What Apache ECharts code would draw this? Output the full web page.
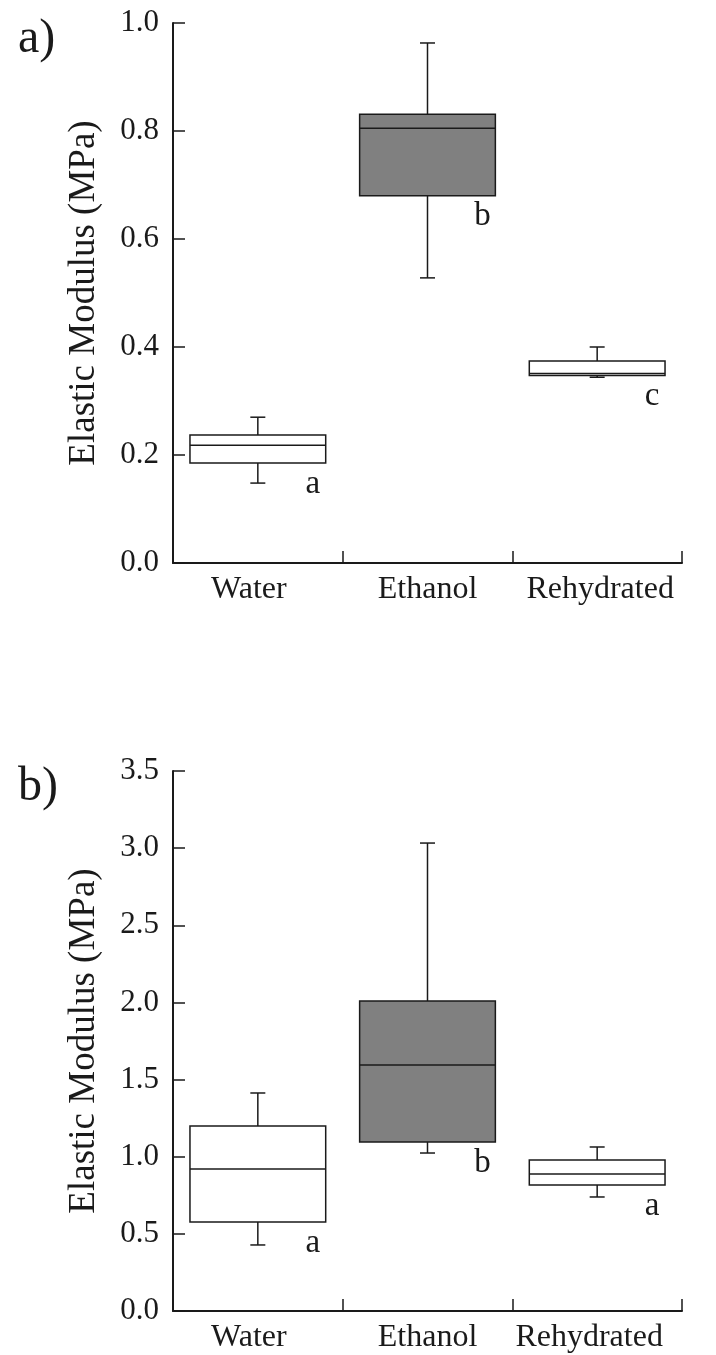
<!DOCTYPE html>
<html lang="en">
<head>
    <meta charset="UTF-8">
    <title>Elastic Modulus box plots</title>
    <script src="https://cdn.jsdelivr.net/npm/echarts@6.0.0/dist/echarts.min.js"></script>
    <style>
        body { margin: 0; background: #fff; }
        #chart { width: 716px; height: 1355px; }
    </style>
</head>
<body>
    <div id="chart"></div>
    <script>
        // data: [min, Q1, median, Q3, max]
        const categories = ['Water', 'Ethanol', 'Rehydrated'];

        const panelA_water = [0.148, 0.185, 0.218, 0.237, 0.270];
        const panelA_ethanol = [0.528, 0.680, 0.805, 0.831, 0.963];
        const panelA_rehydrated = [0.344, 0.347, 0.351, 0.374, 0.400];
        const panelA_letters = ['a', 'b', 'c'];

        const panelB_water = [0.428, 0.577, 0.920, 1.199, 1.413];
        const panelB_ethanol = [1.024, 1.095, 1.594, 2.009, 3.033];
        const panelB_rehydrated = [0.739, 0.816, 0.888, 0.979, 1.063];
        const panelB_letters = ['a', 'b', 'a'];

        const fills = ['#ffffff', '#808080', '#ffffff'];
        const SERIF = '"Liberation Serif", "Times New Roman", serif';
        const INK = '#1a1a1a';

        function renderBox(letters) {
            return function (params, api) {
                const i = api.value(0);
                const xc = api.coord([i, 0])[0];
                const bw = api.size([1, 0])[0] * 0.8;
                const y = [1, 2, 3, 4, 5].map(k => api.coord([i, api.value(k)])[1]);
                const line = { stroke: INK, lineWidth: 1.5 };
                const cap = 7.5;
                return {
                    type: 'group',
                    children: [
                        { type: 'line', shape: { x1: xc, y1: y[3], x2: xc, y2: y[4] }, style: line },
                        { type: 'line', shape: { x1: xc, y1: y[1], x2: xc, y2: y[0] }, style: line },
                        { type: 'line', shape: { x1: xc - cap, y1: y[4], x2: xc + cap, y2: y[4] }, style: line },
                        { type: 'line', shape: { x1: xc - cap, y1: y[0], x2: xc + cap, y2: y[0] }, style: line },
                        {
                            type: 'rect',
                            shape: { x: xc - bw / 2, y: y[3], width: bw, height: y[1] - y[3] },
                            style: { fill: fills[i], stroke: INK, lineWidth: 1.5 }
                        },
                        { type: 'line', shape: { x1: xc - bw / 2, y1: y[2], x2: xc + bw / 2, y2: y[2] }, style: line },
                        {
                            type: 'text',
                            style: {
                                text: letters[i], x: xc + 55, y: y[1] + 21,
                                fill: INK, fontSize: 33, fontFamily: SERIF,
                                align: 'center', verticalAlign: 'middle'
                            }
                        }
                    ]
                };
            };
        }

        function rows(arrs) {
            return arrs.map((a, i) => [i].concat(a));
        }

        function yAxis(gridIndex, max, interval) {
            return {
                type: 'value', gridIndex, min: 0, max, interval,
                name: 'Elastic Modulus (MPa)', nameLocation: 'middle', nameGap: 70, nameRotate: 90,
                nameTextStyle: { fontSize: 37, fontFamily: SERIF, color: INK },
                axisLine: { show: true, lineStyle: { color: INK, width: 2 } },
                axisTick: { show: true, inside: true, length: 12, lineStyle: { color: INK, width: 1.5 } },
                axisLabel: { fontSize: 31, fontFamily: SERIF, color: INK, margin: 14, formatter: v => v.toFixed(1) },
                splitLine: { show: false }
            };
        }

        // small horizontal nudges of the category labels, as placed in the original figure
        function xAxis(gridIndex, shifts) {
            const rich = {};
            shifts.forEach((s, i) => {
                rich['c' + i] = {
                    fontSize: 32, fontFamily: SERIF, color: INK,
                    padding: s < 0 ? [0, -2 * s, 0, 0] : [0, 0, 0, 2 * s]
                };
            });
            return {
                type: 'category', gridIndex, data: categories,
                axisLine: { show: true, lineStyle: { color: INK, width: 2 } },
                axisTick: { show: true, inside: true, length: 12, lineStyle: { color: INK, width: 1.5 } },
                axisLabel: {
                    interval: 0, hideOverlap: false, margin: 11,
                    fontSize: 32, fontFamily: SERIF, color: INK,
                    formatter: (v, i) => '{c' + i + '|' + v + '}',
                    rich
                }
            };
        }

        const chart = echarts.init(document.getElementById('chart'), null, { renderer: 'canvas' });
        chart.setOption({
            backgroundColor: '#fff',
            animation: false,
            title: [
                { text: 'a)', left: 13, top: 10, textStyle: { fontSize: 48, fontWeight: 'normal', fontFamily: SERIF, color: INK } },
                { text: 'b)', left: 13, top: 758, textStyle: { fontSize: 48, fontWeight: 'normal', fontFamily: SERIF, color: INK } }
            ],
            grid: [
                { left: 173, top: 23, width: 509, height: 540 },
                { left: 173, top: 771, width: 509, height: 540 }
            ],
            xAxis: [xAxis(0, [-9, 0, 3]), xAxis(1, [-9, 0, -8])],
            yAxis: [yAxis(0, 1.0, 0.2), yAxis(1, 3.5, 0.5)],
            series: [
                {
                    type: 'custom', xAxisIndex: 0, yAxisIndex: 0,
                    renderItem: renderBox(panelA_letters),
                    data: rows([panelA_water, panelA_ethanol, panelA_rehydrated])
                },
                {
                    type: 'custom', xAxisIndex: 1, yAxisIndex: 1,
                    renderItem: renderBox(panelB_letters),
                    data: rows([panelB_water, panelB_ethanol, panelB_rehydrated])
                }
            ]
        });
    </script>
</body>
</html>
